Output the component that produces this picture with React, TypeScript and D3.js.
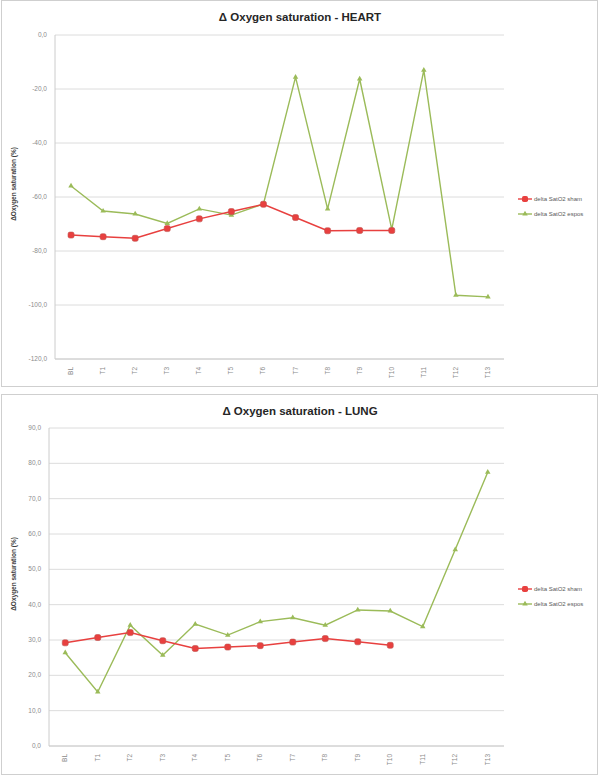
import React, { useEffect, useRef } from 'react';
import * as d3 from 'd3';

const categories = ['BL', 'T1', 'T2', 'T3', 'T4', 'T5', 'T6', 'T7', 'T8', 'T9', 'T10', 'T11', 'T12', 'T13'];

const heartSham = [-74.1, -74.7, -75.3, -71.7, -68.1, -65.4, -62.7, -67.6, -72.5, -72.4, -72.4];
const heartExpo = [-55.9, -65.2, -66.3, -69.8, -64.4, -66.7, -62.6, -15.6, -64.4, -16.3, -72.0, -13.0, -96.4, -97.0];
const heartTicks = [0, -20, -40, -60, -80, -100, -120];

const lungSham = [29.2, 30.7, 32.1, 29.8, 27.6, 28.0, 28.4, 29.4, 30.4, 29.5, 28.5];
const lungExpo = [26.4, 15.3, 34.2, 25.7, 34.5, 31.4, 35.2, 36.3, 34.2, 38.5, 38.2, 33.8, 55.6, 77.5];
const lungTicks = [0, 10, 20, 30, 40, 50, 60, 70, 80, 90];

const seriesNames = ['delta SatO2 sham', 'delta SatO2 espos'];

const RED = '#e8403f';
const GREEN = '#9bbb59';
const FONT = "'Liberation Sans', Arial, sans-serif";

type PanelOpts = {
  top: number;
  height: number;
  title: string;
  sham: number[];
  expo: number[];
  ticks: number[];
  plot: { left: number; right: number; top: number; bottom: number };
  legendY: number;
};

const fmt = (v: number) => v.toFixed(1).replace('.', ',');

function drawPanel(svg: d3.Selection<SVGSVGElement, unknown, null, undefined>, o: PanelOpts) {
  const g = svg.append('g');

  g.append('rect')
    .attr('x', 1.5)
    .attr('y', o.top + 0.5)
    .attr('width', 596)
    .attr('height', o.height)
    .attr('fill', '#fff')
    .attr('stroke', '#cfcfcf');

  const x = d3.scaleBand().domain(categories).range([o.plot.left, o.plot.right]);
  const y = d3
    .scaleLinear()
    .domain(d3.extent(o.ticks) as [number, number])
    .range([o.plot.bottom, o.plot.top]);
  const cx = (i: number) => x(categories[i])! + x.bandwidth() / 2;

  // gridlines
  g.selectAll('.grid')
    .data(o.ticks)
    .enter()
    .append('line')
    .attr('x1', o.plot.left)
    .attr('x2', o.plot.right)
    .attr('y1', (d) => y(d))
    .attr('y2', (d) => y(d))
    .attr('stroke', '#dcdcdc')
    .attr('stroke-width', 1);

  // axes
  g.append('line')
    .attr('x1', o.plot.left)
    .attr('x2', o.plot.left)
    .attr('y1', o.plot.top)
    .attr('y2', o.plot.bottom)
    .attr('stroke', '#cccccc');
  g.append('line')
    .attr('x1', o.plot.left)
    .attr('x2', o.plot.right)
    .attr('y1', o.plot.bottom)
    .attr('y2', o.plot.bottom)
    .attr('stroke', '#cccccc');

  g.selectAll('.ytick')
    .data(o.ticks)
    .enter()
    .append('text')
    .attr('x', o.plot.left - 8)
    .attr('y', (d) => y(d) + 2)
    .attr('text-anchor', 'end')
    .attr('font-size', 6.5)
    .attr('font-family', FONT)
    .attr('fill', '#8c8c8c')
    .text((d) => fmt(d));

  g.selectAll('.xtick')
    .data(categories)
    .enter()
    .append('text')
    .attr('transform', (d) => `translate(${x(d)! + x.bandwidth() / 2 + 2},${o.plot.bottom + 8}) rotate(-90)`)
    .attr('text-anchor', 'end')
    .attr('font-size', 6.5)
    .attr('font-family', FONT)
    .attr('fill', '#8c8c8c')
    .text((d) => d);

  // title
  g.append('text')
    .attr('x', 300)
    .attr('y', o.top + 21)
    .attr('text-anchor', 'middle')
    .attr('font-size', 11.5)
    .attr('font-weight', 'bold')
    .attr('font-family', FONT)
    .attr('fill', '#262626')
    .text(o.title);

  // y axis label
  g.append('text')
    .attr('transform', `translate(16,${(o.plot.top + o.plot.bottom) / 2 - 13}) rotate(-90)`)
    .attr('text-anchor', 'middle')
    .attr('font-size', 6.5)
    .attr('font-weight', 'bold')
    .attr('font-family', FONT)
    .attr('fill', '#404040')
    .text('\u0394Oxygen saturation (%)');

  const line = d3
    .line<number>()
    .x((_, i) => cx(i))
    .y((d) => y(d));

  g.append('path')
    .attr('d', line(o.expo))
    .attr('fill', 'none')
    .attr('stroke', GREEN)
    .attr('stroke-width', 1.4);
  g.selectAll('.tri')
    .data(o.expo)
    .enter()
    .append('path')
    .attr('transform', (d, i) => `translate(${cx(i)},${y(d)})`)
    .attr('d', d3.symbol(d3.symbolTriangle, 13)())
    .attr('fill', GREEN);

  g.append('path')
    .attr('d', line(o.sham))
    .attr('fill', 'none')
    .attr('stroke', RED)
    .attr('stroke-width', 1.5);
  g.selectAll('.sq')
    .data(o.sham)
    .enter()
    .append('rect')
    .attr('x', (d, i) => cx(i) - 3)
    .attr('y', (d) => y(d) - 3)
    .attr('width', 6)
    .attr('height', 6)
    .attr('rx', 1.8)
    .attr('fill', RED)
    .attr('stroke', '#c0504d')
    .attr('stroke-width', 0.6);

  // legend
  const lg = g.append('g').attr('transform', `translate(518,${o.legendY})`);
  seriesNames.forEach((name, i) => {
    const yy = i * 15;
    const col = i === 0 ? RED : GREEN;
    lg.append('line')
      .attr('x1', 0)
      .attr('x2', 14)
      .attr('y1', yy)
      .attr('y2', yy)
      .attr('stroke', col)
      .attr('stroke-width', 1.4);
    if (i === 0) {
      lg.append('rect').attr('x', 4).attr('y', yy - 3).attr('width', 6).attr('height', 6).attr('rx', 1.8).attr('fill', RED);
    } else {
      lg.append('path')
        .attr('transform', `translate(7,${yy})`)
        .attr('d', d3.symbol(d3.symbolTriangle, 13)())
        .attr('fill', GREEN);
    }
    lg.append('text')
      .attr('x', 16)
      .attr('y', yy + 2)
      .attr('font-size', 6)
      .attr('font-family', FONT)
      .attr('fill', '#595959')
      .text(name);
  });
}

export default function App() {
  const ref = useRef<SVGSVGElement>(null);

  useEffect(() => {
    if (!ref.current) return;
    const svg = d3.select(ref.current);
    svg.selectAll('*').remove();

    drawPanel(svg, {
      top: 0,
      height: 386,
      title: '\u0394 Oxygen saturation - HEART',
      sham: heartSham,
      expo: heartExpo,
      ticks: heartTicks,
      plot: { left: 55, right: 504, top: 35, bottom: 359 },
      legendY: 199,
    });

    drawPanel(svg, {
      top: 394,
      height: 380,
      title: '\u0394 Oxygen saturation - LUNG',
      sham: lungSham,
      expo: lungExpo,
      ticks: lungTicks,
      plot: { left: 49, right: 504, top: 428, bottom: 746 },
      legendY: 589,
    });
  }, []);

  return (
    <svg
      ref={ref}
      width={600}
      height={776}
      style={{ position: 'absolute', left: 0, top: 0, background: '#fff' }}
    />
  );
}
